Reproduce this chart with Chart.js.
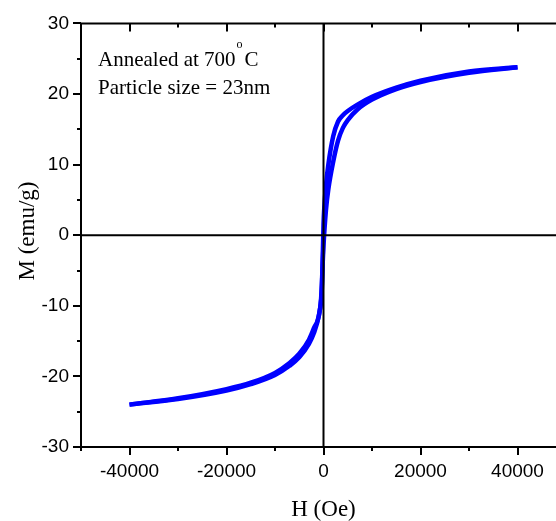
<!DOCTYPE html>
<html>
<head>
<meta charset="utf-8">
<script src="https://cdn.jsdelivr.net/npm/chart.js@4.4.1/dist/chart.umd.min.js"></script>
<style>
html,body{margin:0;padding:0;background:#fff;overflow:hidden;}
#wrap{width:580px;height:521px;position:relative;}
</style>
</head>
<body>
<div id="wrap"><canvas id="c" width="580" height="521"></canvas></div>
<script>
// Descending branch (from +40000 Oe to -40000 Oe)
const H_down = [40000, 30000, 20000, 15000, 10000, 7000, 5000, 4000, 3000, 2000, 1000, 500, 0, -300, -800, -2000, -3000, -5000, -7000, -10000, -15000, -20000, -30000, -40000];
const M_down = [23.8, 23.2, 21.9, 20.9, 19.6, 18.5, 17.6, 17.0, 16.1, 14.0, 10.0, 7.0, 1.5, -7.0, -10.8, -13.2, -14.8, -16.8, -18.1, -19.5, -20.9, -21.8, -23.1, -24.0];
// Ascending branch (from -40000 Oe to +40000 Oe)
const H_up = [-40000, -30000, -20000, -15000, -10000, -7000, -5000, -3000, -2000, -1000, -500, 0, 500, 1000, 2000, 3000, 4000, 5000, 7000, 10000, 15000, 20000, 30000, 40000];
const M_up = [-24.0, -23.2, -22.0, -21.1, -19.8, -18.5, -17.3, -15.4, -13.9, -11.5, -9.0, -1.5, 3.5, 6.5, 10.4, 13.4, 15.2, 16.3, 17.8, 19.2, 20.7, 21.7, 23.0, 23.8];

const xTickLabels = [-40000, -20000, 0, 20000, 40000];
const yTickLabels = [-30, -20, -10, 0, 10, 20, 30];

const annotLine1 = "Annealed at 700";
const annotDeg = "o";
const annotC = "C";
const annotLine2 = "Particle size = 23nm";
const xTitle = "H (Oe)";
const yTitle = "M (emu/g)";

const toPts = (hs, ms) => hs.map((h, i) => ({x: h, y: ms[i]}));

const axesPlugin = {
  id: 'axesPlugin',
  afterDraw(chart) {
    const ctx = chart.ctx;
    const a = chart.chartArea;
    const xs = chart.scales.x, ys = chart.scales.y;
    ctx.save();
    ctx.strokeStyle = '#000';
    ctx.lineWidth = 2;
    ctx.lineCap = 'butt';
    ctx.beginPath();
    ctx.moveTo(a.left, a.top); ctx.lineTo(a.right, a.top);
    ctx.moveTo(a.left, a.top); ctx.lineTo(a.left, a.bottom);
    ctx.moveTo(a.left, a.bottom); ctx.lineTo(a.right, a.bottom);
    const x0 = xs.getPixelForValue(0), y0 = ys.getPixelForValue(0);
    ctx.moveTo(x0, a.top); ctx.lineTo(x0, a.bottom);
    ctx.moveTo(a.left, y0); ctx.lineTo(a.right, y0);
    ctx.stroke();
    ctx.beginPath();
    for (let v = -50000; v <= 50000; v += 10000) {
      const px = Math.round(xs.getPixelForValue(v));
      const major = (v % 20000 === 0);
      const len = major ? 8 : 4;
      ctx.moveTo(px, a.bottom); ctx.lineTo(px, a.bottom + len);
      ctx.moveTo(px, a.top); ctx.lineTo(px, a.top + len);
    }
    for (let v = -30; v <= 30; v += 5) {
      const py = Math.round(ys.getPixelForValue(v));
      const major = (v % 10 === 0);
      const len = major ? 8 : 4;
      ctx.moveTo(a.left, py); ctx.lineTo(a.left - len, py);
    }
    ctx.stroke();

    ctx.fillStyle = '#000';
    ctx.textAlign = 'left';
    ctx.textBaseline = 'alphabetic';
    ctx.font = '21px "Liberation Serif", "Times New Roman", serif';
    const tx = 98;
    ctx.fillText(annotLine1, tx, 66);
    const w1 = ctx.measureText(annotLine1).width;
    ctx.font = '12px "Liberation Serif", "Times New Roman", serif';
    ctx.fillText(annotDeg, tx + w1 + 1, 48);
    const wo = ctx.measureText(annotDeg).width;
    ctx.font = '21px "Liberation Serif", "Times New Roman", serif';
    ctx.fillText(annotC, tx + w1 + wo + 3, 66);
    ctx.fillText(annotLine2, tx, 94);

    ctx.font = '23px "Liberation Serif", "Times New Roman", serif';
    ctx.textAlign = 'center';
    ctx.fillText(xTitle, x0, 516);
    ctx.save();
    ctx.translate(34, 231);
    ctx.rotate(-Math.PI / 2);
    ctx.fillText(yTitle, 0, 0);
    ctx.restore();
    ctx.restore();
  }
};

new Chart(document.getElementById('c'), {
  type: 'scatter',
  data: {
    datasets: [
      {data: toPts(H_down, M_down), showLine: true, borderColor: '#0000ff', borderWidth: 4.5, pointRadius: 0, cubicInterpolationMode: 'monotone', fill: false},
      {data: toPts(H_up, M_up), showLine: true, borderColor: '#0000ff', borderWidth: 4.5, pointRadius: 0, cubicInterpolationMode: 'monotone', fill: false}
    ]
  },
  options: {
    responsive: false,
    animation: false,
    events: [],
    layout: {padding: {top: 23, right: 14, left: 0, bottom: 0}},
    plugins: {legend: {display: false}, tooltip: {enabled: false}},
    scales: {
      x: {
        type: 'linear', min: -50000, max: 50000,
        afterFit(s) { s.height = 74; },
        grid: {display: false, drawTicks: false},
        border: {display: false},
        ticks: {
          stepSize: 10000, autoSkip: false, maxRotation: 0, padding: 13,
          color: '#000',
          font: {family: '"Liberation Sans", Arial, sans-serif', size: 19},
          callback: (v) => xTickLabels.includes(v) ? String(v) : ''
        }
      },
      y: {
        type: 'linear', min: -30, max: 30,
        afterFit(s) { s.width = 81; },
        grid: {display: false, drawTicks: false},
        border: {display: false},
        ticks: {
          stepSize: 5, autoSkip: false, padding: 12,
          color: '#000',
          font: {family: '"Liberation Sans", Arial, sans-serif', size: 19},
          callback: (v) => yTickLabels.includes(v) ? String(v) : ''
        }
      }
    }
  },
  plugins: [axesPlugin]
});
</script>
</body>
</html>
